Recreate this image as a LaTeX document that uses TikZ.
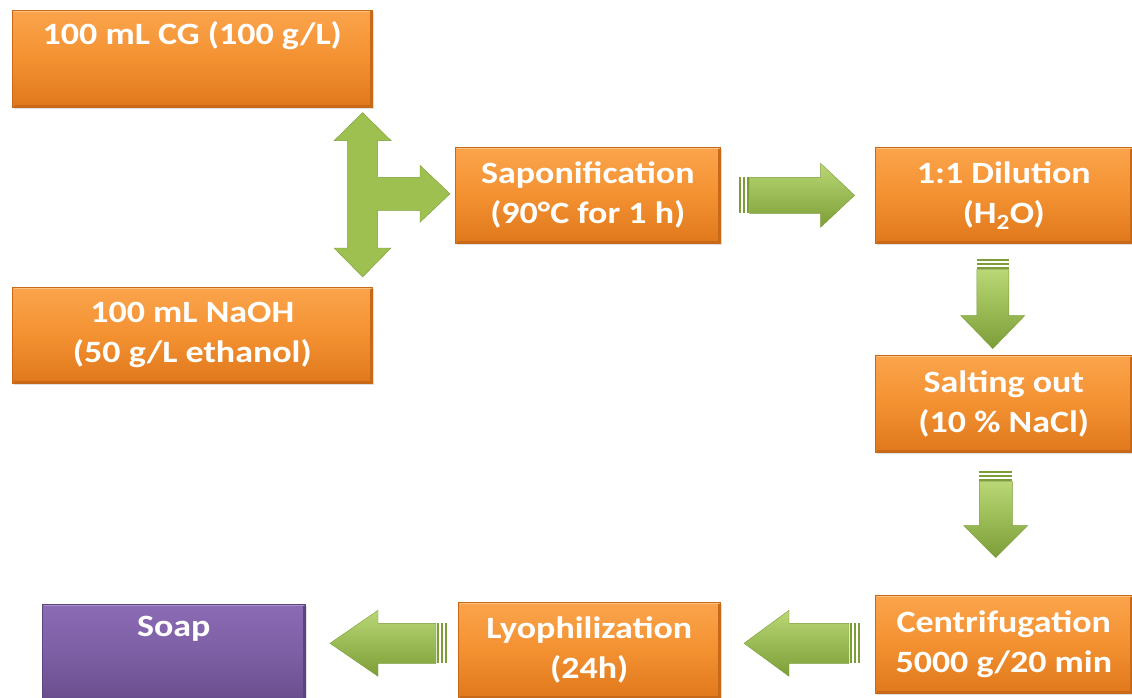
\documentclass[tikz,border=0pt]{standalone}
\usepackage{fontspec}
\setmainfont{Carlito}[FakeStretch=1.16]
\usetikzlibrary{calc,shadows}
\definecolor{orT}{HTML}{FBA44C}
\definecolor{orM}{HTML}{F39131}
\definecolor{orB}{HTML}{DF781C}
\definecolor{orE}{HTML}{C8691A}
\definecolor{orH}{HTML}{FDC27F}
\definecolor{puT}{HTML}{8B6BB5}
\definecolor{puB}{HTML}{694E8D}
\definecolor{puE}{HTML}{5C4480}
\definecolor{puH}{HTML}{A990CC}
\definecolor{gL}{HTML}{B9D875}
\definecolor{gM}{HTML}{9DC050}
\definecolor{gD}{HTML}{7C9D38}
\tikzset{
  pics/barr/.style args={#1/#2/#3/#4}{code={
    \shade[arrshade] (11,-#3) -- (#1-#2,-#3) -- (#1-#2,-#4) -- (#1,0) -- (#1-#2,#4) -- (#1-#2,#3) -- (11,#3) -- cycle;
    \fill[gD] (0,-#3) rectangle (2,#3);
    \fill[gD] (4,-#3) rectangle (6,#3);
    \fill[gD] (8,-#3) rectangle (10,#3);
  }},
  arrshade/.style={top color=gL, middle color=gM, bottom color=gD, draw=gD, line width=0.4pt},
  box/.style={rectangle, inner sep=0pt, anchor=north west, text=white,
    font=\fontsize{31}{40}\selectfont\bfseries, align=center,
    top color=orT, bottom color=orB, middle color=orM, draw=orE, line width=0.6pt,
    drop shadow={shadow xshift=2pt, shadow yshift=-2pt, opacity=0.25}},
  pbox/.style={box, top color=puT, bottom color=puB, middle color=puT!60!puB, draw=puE}
}
\begin{document}
\begin{tikzpicture}[x=1pt,y=-1pt]
\useasboundingbox (0,0) rectangle (1132,698);
\clip (0,0) rectangle (1132,698);
\node[box, minimum width=360pt, minimum height=97pt] (A) at (12,10) {100 mL CG (100 g/L)\\\strut};
\node[box, minimum width=360pt, minimum height=96pt] (B) at (12,287) {100 mL NaOH\\(50 g/L ethanol)};
\node[box, minimum width=265pt, minimum height=96pt] (C) at (455,147) {Saponification\\ (90°C for 1 h)};
\node[box, minimum width=257pt, minimum height=96pt] (D) at (875,147) {1:1 Dilution\\(H\textsubscript{2}O)};
\node[box, minimum width=257pt, minimum height=97pt] (E) at (875,355) {Salting out\\(10 \% NaCl)};
\node[box, minimum width=257pt, minimum height=98pt] (F) at (875,595) {Centrifugation\\5000 g/20 min};
\node[box, minimum width=262pt, minimum height=96pt] (G) at (458,602) {Lyophilization\\(24h)};
\node[pbox, minimum width=263pt, minimum height=96pt] (H) at (42,604) {Soap\\\strut};
% bevel highlights
\foreach \n in {A,B,C,D,E,F,G}{
  \draw[orH, line width=1.6pt] ($(\n.north west)+(1.5,1.5)$) -- ($(\n.north east)+(-1.5,1.5)$);
  \draw[orE, line width=1.6pt] ($(\n.south west)+(1.5,-1.5)$) -- ($(\n.south east)+(-1.5,-1.5)$) -- ($(\n.north east)+(-1.5,1.5)$);
}
\draw[puH, line width=1.6pt] ($(H.north west)+(1.5,1.5)$) -- ($(H.north east)+(-1.5,1.5)$);
\draw[puE, line width=1.6pt] ($(H.south east)+(-1.5,-1.5)$) -- ($(H.north east)+(-1.5,1.5)$);
% T-shaped arrow
\coordinate (ta) at ($(A.south east)+(-10,5)$);
\coordinate (tb) at ($(B.north east)+(-10,-10)$);
\coordinate (tc) at ($(C.west)+(-5,-1.5)$);
\shade[left color=gM, middle color=gL, right color=gM, draw=gD, line width=0.4pt]
  (ta) -- ($(ta)+(28.5,28)$) -- ($(ta)+(15,28)$) -- ($(ta|-tc)+(15,-16.5)$)
  -- ($(tc)+(-30,-16.5)$) -- ($(tc)+(-30,-28.5)$) -- (tc) -- ($(tc)+(-30,28.5)$)
  -- ($(tc)+(-30,16.5)$) -- ($(ta|-tc)+(15,16.5)$) -- ($(tb)+(15,-29)$)
  -- ($(tb)+(28.5,-29)$) -- (tb) -- ($(tb)+(-28.5,-29)$) -- ($(tb)+(-15,-29)$)
  -- ($(ta)+(-15,28)$) -- ($(ta)+(-28.5,28)$) -- cycle;
% flow arrows
\pic at ($(C.east)+(18,0)$) {barr=116/34/18/32};
\pic[rotate=-90] at ($(D.south)+(-11,15)$) {barr=90/33/16/32};
\pic[rotate=-90] at ($(E.south)+(-8,18)$) {barr=87/32/16.5/32};
\pic[rotate=180] at ($(F.west)+(-15,-1)$) {barr=116/45/20/33};
\pic[rotate=180] at ($(G.west)+(-11,-7)$) {barr=117/48/20/33};
\end{tikzpicture}
\end{document}
